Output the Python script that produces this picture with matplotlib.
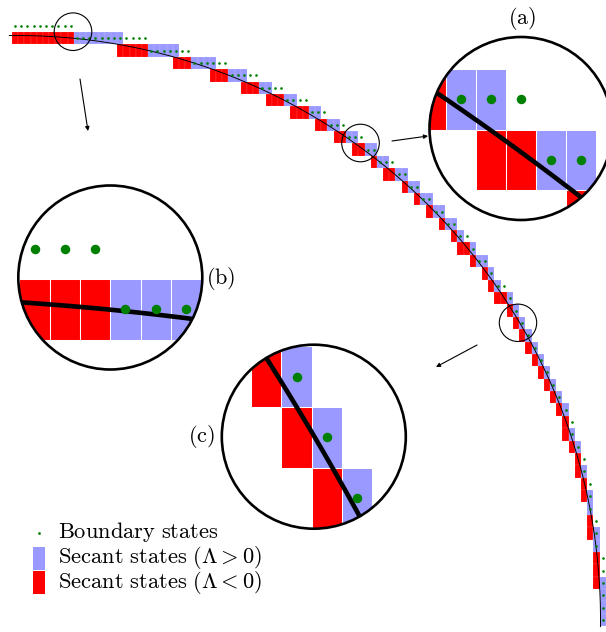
import numpy as np
import matplotlib
matplotlib.use("Agg")
import matplotlib.pyplot as plt
from matplotlib.patches import Rectangle, Circle
from matplotlib.collections import PatchCollection

plt.rcParams["mathtext.fontset"] = "cm"

# canvas in pixel units
W, H = 606, 632

# lattice of cells (cell width dx, height dy)
x0, y0 = 12.0, 32.0
dx, dy = 6.185, 12.38
ncols, nrows = 96, 48

# circular boundary: centre, radius, drawn angular range (deg)
cx, cy, R = 17.0, 619.0, 583.5
arc_deg = (-0.8, 90.8)

# magnified views
zoom_labels = [r"$(\mathrm{a})$", r"$(\mathrm{b})$", r"$(\mathrm{c})$"]
zoom_small = [(361.5, 143.2, 18.8), (73.85, 31.7, 18.8), (519.6, 322.8, 18.8)]
zoom_big = [(521.0, 128.5, 91.5), (110.3, 277.5, 92.0), (313.8, 436.7, 92.0)]
small_ring = [(360.5, 143.0, 18.8), (73.0, 31.7, 18.8), (518.0, 322.8, 18.7)]
label_pos = [(522, 18), (221, 279), (201, 436)]
arrow_tail = [(392, 141), (80, 79), (477, 345)]
arrow_head = [(428, 136), (88, 131), (436, 367)]

legend_labels = [r"$\mathrm{Boundary\ states}$",
                 r"$\mathrm{Secant\ states}\ (\Lambda > 0)$",
                 r"$\mathrm{Secant\ states}\ (\Lambda < 0)$"]

RED = "#ff0000"
BLUE = "#9999ff"
GREEN = "#008000"

# ---- classify lattice cells against the circle ----
rows = np.arange(-1, nrows)
cols = np.arange(0, ncols)
J, I = np.meshgrid(cols, rows)
xl = x0 + J * dx
xr = xl + dx
yt = y0 + I * dy
yb = yt + dy
xc = xl + dx / 2
yc = yt + dy / 2
inside = (xc - cx) ** 2 + (yc - cy) ** 2 < R ** 2
nx = np.clip(cx, xl, xr)
ny = np.clip(cy, yt, yb)
dmin = np.hypot(nx - cx, ny - cy)
dmax = np.hypot(np.maximum(abs(xl - cx), abs(xr - cx)),
                np.maximum(abs(yt - cy), abs(yb - cy)))
cut = (dmin < R) & (dmax > R) & (I >= 0)
red = cut & inside
blue = cut & ~inside
below = np.zeros_like(inside)
below[:-1] = inside[1:]
left = np.zeros_like(inside)
left[:, 1:] = inside[:, :-1]
bnd = ~inside & (below | left)

th = np.deg2rad(np.linspace(arc_deg[0], arc_deg[1], 800))
arc_x = cx + R * np.cos(th)
arc_y = cy - R * np.sin(th)


def draw_scene(ax, k, edge_lw, dot_s, clip=None):
    arts = []
    for mask, col in ((red, RED), (blue, BLUE)):
        rects = [Rectangle((a, b), dx, dy) for a, b in zip(xl[mask], yt[mask])]
        pc = PatchCollection(rects, facecolor=col, edgecolor="white",
                             linewidth=edge_lw, zorder=2)
        ax.add_collection(pc)
        arts.append(pc)
    ln, = ax.plot(arc_x, arc_y, color="black", lw=0.68 * k, zorder=3,
                  solid_capstyle="butt")
    arts.append(ln)
    sc = ax.scatter(xc[bnd], yc[bnd], s=dot_s, c=GREEN,
                    linewidths=0, zorder=4)
    arts.append(sc)
    if clip is not None:
        for a in arts:
            a.set_clip_path(clip)


fig = plt.figure(figsize=(W / 100, H / 100), dpi=100)
ax = fig.add_axes([0, 0, 1, 1])
ax.set_xlim(0, W)
ax.set_ylim(H, 0)
ax.axis("off")

draw_scene(ax, 1.0, 0.08, 3.6)

# markers of the magnified regions and arrows
for (xs, ys, rs), t, h in zip(small_ring, arrow_tail, arrow_head):
    ax.add_patch(Circle((xs, ys), rs, fill=False, edgecolor="black",
                        lw=0.8, zorder=5))
    ax.annotate("", xy=h, xytext=t,
                arrowprops=dict(arrowstyle="-|>", lw=0.8, color="black",
                                mutation_scale=6, shrinkA=0, shrinkB=0))

for lab, (lx, ly) in zip(zoom_labels, label_pos):
    ax.text(lx, ly, lab, fontsize=16, ha="center", va="center")

# legend
ax.scatter([39.3], [533.3], s=4, c=GREEN, linewidths=0)
ax.add_patch(Rectangle((32.7, 546.7), 12.3, 23.3, facecolor=BLUE, edgecolor="none"))
ax.add_patch(Rectangle((32.7, 571.0), 12.3, 23.3, facecolor=RED, edgecolor="none"))
for lab, yb_ in zip(legend_labels, [538.3, 563.3, 588.0]):
    ax.text(58, yb_, lab, fontsize=16.2, ha="left", va="baseline")

# magnified insets
for (xs, ys, rs), (X, Y, Rb) in zip(zoom_small, zoom_big):
    iax = fig.add_axes([(X - Rb) / W, 1 - (Y + Rb) / H, 2 * Rb / W, 2 * Rb / H])
    iax.set_xlim(xs - rs, xs + rs)
    iax.set_ylim(ys + rs, ys - rs)
    iax.axis("off")
    k = Rb / rs
    iax.add_patch(Circle((xs, ys), rs, facecolor="white", edgecolor="none", zorder=0))
    clip = Circle((xs, ys), rs, transform=iax.transData)
    draw_scene(iax, k, 0.75, (1.4 * k) ** 2, clip)
    iax.add_patch(Circle((xs, ys), rs, fill=False, edgecolor="black",
                         lw=1.9, zorder=10, clip_on=False))

fig.savefig("out.png", dpi=100)
